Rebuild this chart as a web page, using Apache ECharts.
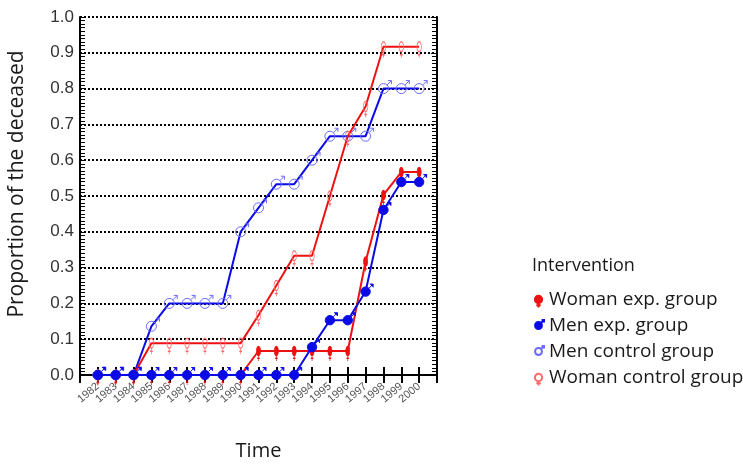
<!DOCTYPE html>
<html><head><meta charset="utf-8">
<script src="https://cdn.jsdelivr.net/npm/echarts@6/dist/echarts.min.js"></script>
<style>html,body{margin:0;padding:0;background:#fff}#c{width:743px;height:466px}</style>
</head><body><div id="c"></div>
<script>
const years = [1982,1983,1984,1985,1986,1987,1988,1989,1990,1991,1992,1993,1994,1995,1996,1997,1998,1999,2000];
const womanExp  = [0,0,0,0,0,0,0,0,0,0.067,0.067,0.067,0.067,0.067,0.067,0.317,0.503,0.567,0.567];
const menExp    = [0,0,0,0,0,0,0,0,0,0,0,0,0.078,0.153,0.153,0.233,0.461,0.539,0.539];
const menCtrl   = [0,0,0,0.136,0.2,0.2,0.2,0.2,0.4,0.467,0.533,0.533,0.6,0.667,0.667,0.667,0.8,0.8,0.8];
const womanCtrl = [0,0,0,0.089,0.089,0.089,0.089,0.089,0.089,0.167,0.25,0.333,0.333,0.5,0.667,0.75,0.917,0.917,0.917];
const seriesNames = ['Woman exp. group','Men exp. group','Men control group','Woman control group'];
const yTicks = [0,0.1,0.2,0.3,0.4,0.5,0.6,0.7,0.8,0.9,1.0];

const MALE = 'path://M-8,8 M-5,0 A5,5 0 0,1 5,0 A5,5 0 0,1 -5,0 Z M3.6,-3.6 L8,-8 M4.5,-8 L8,-8 L8,-4.5';
const FEMALE = 'path://M0,-11 M-5,0 A5,5 0 0,1 5,0 A5,5 0 0,1 -5,0 Z M0,5 L0,11 M-3,8 L3,8';

const BLUE = '#0a0ae6', RED = '#ee1111';
const pairs = arr => arr.map((v,i)=>[years[i], v]);

const chart = echarts.init(document.getElementById('c'));
const axisFont = 'Liberation Sans, Arial, sans-serif';
const textFont = 'Open Sans, sans-serif';
chart.setOption({
  animation:false,
  title:{text:'Intervention', left:527, top:252, textStyle:{fontFamily:textFont, fontSize:18, fontWeight:'normal', color:'#1a1a1a'}},
  legend:{
    orient:'vertical', left:527, top:285, itemGap:7, itemWidth:11, itemHeight:16,
    textStyle:{fontFamily:textFont, fontSize:19, color:'#1a1a1a'},
    data:[
      {name:seriesNames[0], icon:FEMALE},
      {name:seriesNames[1], icon:MALE},
      {name:seriesNames[2], icon:MALE},
      {name:seriesNames[3], icon:FEMALE}
    ]
  },
  grid:{left:80, right:306, top:17, bottom:89},
  xAxis:[
    {type:'value', position:'bottom', min:1981, max:2001, interval:1,
     name:'Time', nameLocation:'middle', nameGap:66,
     nameTextStyle:{fontFamily:textFont, fontSize:20, color:'#1a1a1a'},
     axisLine:{lineStyle:{color:'#000', width:2}},
     axisTick:{inside:true, length:8, lineStyle:{color:'#000', width:2}},
     axisLabel:{rotate:40, fontSize:11, fontFamily:axisFont, color:'#555', margin:10,
       formatter:v=> (v>=years[0] && v<=years[years.length-1]) ? String(v) : ''},
     splitLine:{show:false}},
    {type:'value', position:'top', min:1981, max:2001, interval:1,
     axisLine:{lineStyle:{color:'#000', width:2}},
     axisTick:{inside:true, length:8, lineStyle:{color:'#000', width:2}},
     axisLabel:{show:false}, splitLine:{show:false}}
  ],
  yAxis:[
    {type:'value', position:'left', min:0, max:1, interval:0.1,
     name:'Proportion of the deceased', nameLocation:'middle', nameGap:52,
     nameTextStyle:{fontFamily:textFont, fontSize:21, color:'#1a1a1a', padding:[0,0,0,24]},
     axisLine:{show:true, lineStyle:{color:'#000', width:2}},
     axisTick:{show:true, inside:true, length:6, lineStyle:{color:'#000', width:1}},
     minorTick:{show:true, splitNumber:10, length:5, lineStyle:{color:'#000', width:1}},
     axisLabel:{fontSize:17, fontFamily:axisFont, color:'#333', margin:6, formatter:v=>v.toFixed(1)},
     splitLine:{show:true, lineStyle:{color:'#000', width:2, type:[2,2]}}},
    {type:'value', position:'right', min:0, max:1, interval:0.1,
     axisLine:{show:true, lineStyle:{color:'#000', width:2}},
     axisTick:{show:true, inside:true, length:6, lineStyle:{color:'#000', width:1}},
     minorTick:{show:true, splitNumber:10, length:5, lineStyle:{color:'#000', width:1}},
     axisLabel:{show:false}, splitLine:{show:false}}
  ],
  series:[
    {name:seriesNames[2], type:'line', data:pairs(menCtrl), symbol:MALE, symbolSize:16, symbolKeepAspect:true,
     lineStyle:{color:BLUE, width:2}, itemStyle:{color:'rgba(255,255,255,0)', borderColor:'#6a6aff', borderWidth:1}, z:2},
    {name:seriesNames[3], type:'line', data:pairs(womanCtrl), symbol:FEMALE, symbolSize:[10,22], symbolKeepAspect:true,
     lineStyle:{color:RED, width:2}, itemStyle:{color:'rgba(255,255,255,0)', borderColor:'#ff6a6a', borderWidth:1}, z:3},
    {name:seriesNames[0], type:'line', data:pairs(womanExp), symbol:FEMALE, symbolSize:[9,20], symbolKeepAspect:true,
     lineStyle:{color:RED, width:2}, itemStyle:{color:RED, borderColor:RED, borderWidth:1}, z:4},
    {name:seriesNames[1], type:'line', data:pairs(menExp), symbol:MALE, symbolSize:15, symbolKeepAspect:true,
     lineStyle:{color:BLUE, width:2}, itemStyle:{color:BLUE, borderColor:BLUE, borderWidth:1}, z:5}
  ]
});
</script></body></html>
